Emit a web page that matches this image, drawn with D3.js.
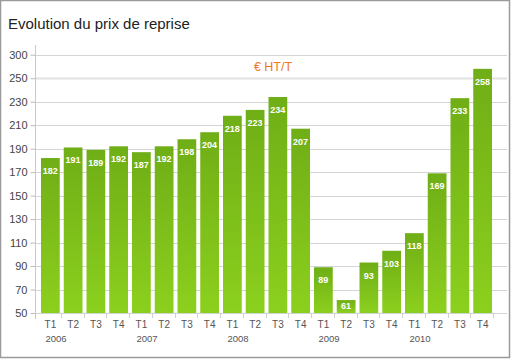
<!DOCTYPE html>
<html><head><meta charset="utf-8">
<script src="https://cdn.jsdelivr.net/npm/d3@7"></script>
<style>html,body{margin:0;padding:0;background:#fff;}svg{display:block;}</style>
</head><body>
<script>
const quarters = ["T1","T2","T3","T4","T1","T2","T3","T4","T1","T2","T3","T4","T1","T2","T3","T4","T1","T2","T3","T4"];
const years = ["2006","2007","2008","2009","2010"];
const values = [182,191,189,192,187,192,198,204,218,223,234,207,89,61,93,103,118,169,233,258];
const yTickValues = [50,70,90,110,130,150,170,190,210,230,250,270];
const yTickLabels = ["50","70","90","110","130","150","170","190","210","230","250","300"];

const W = 511, H = 359;
const FONT = "Liberation Sans, Arial, sans-serif";
const svg = d3.select("body").append("svg").attr("width", W).attr("height", H);
const defs = svg.append("defs");
const grad = defs.append("linearGradient").attr("id","g").attr("x1",0).attr("y1",0).attr("x2",0).attr("y2",1);
grad.append("stop").attr("offset","0%").attr("stop-color","#6fae16");
grad.append("stop").attr("offset","100%").attr("stop-color","#8cd01e");

svg.append("rect").attr("x",0.5).attr("y",0.5).attr("width",W-2).attr("height",H-2)
  .attr("fill","#fff").attr("stroke","#9a9a9a").attr("stroke-width",1.5);

svg.append("text").attr("x",8).attr("y",29).attr("font-family",FONT)
  .attr("font-size",15).attr("fill","#222").text("Evolution du prix de reprise");

const idx = values.map((d,i)=>i);
const x = d3.scaleBand().domain(idx).range([38,493]).padding(0);
const y = d3.scaleLinear().domain([50,280]).range([313,43]);

// grid
svg.append("g").selectAll("line").data(yTickValues).join("line")
  .attr("x1",35).attr("x2",507).attr("y1",d=>Math.round(y(d))+0.5).attr("y2",d=>Math.round(y(d))+0.5)
  .attr("stroke",d=>d===250?"#e2e2e2":"#d4d4d4").attr("stroke-width",d=>d===250?2:1);

// y axis
const yAxis = d3.axisLeft(y).tickValues(yTickValues).tickSize(5).tickPadding(3)
  .tickFormat((d,i)=>yTickLabels[i]);
const gy = svg.append("g").attr("transform","translate(35.5,0)").call(yAxis);
gy.select(".domain").remove();
gy.selectAll(".tick line").attr("stroke","#bbb");
gy.selectAll(".tick text").attr("font-family",FONT).attr("font-size",11).attr("fill","#444");
svg.append("line").attr("x1",35.5).attr("x2",35.5).attr("y1",45).attr("y2",319).attr("stroke","#c8c8c8");

// x ticks
svg.append("g").selectAll("line").data(idx).join("line")
  .attr("x1",d=>Math.round(x(d)+x.bandwidth())+0.5).attr("x2",d=>Math.round(x(d)+x.bandwidth())+0.5)
  .attr("y1",313).attr("y2",318).attr("stroke","#d0d0d0");

// bars
svg.append("g").selectAll("rect").data(values).join("rect")
  .attr("x",(d,i)=>x(i)+3).attr("width",x.bandwidth()-4)
  .attr("y",d=>y(d)).attr("height",d=>y(50)-y(d)).attr("fill","url(#g)");

svg.append("g").selectAll("text").data(values).join("text")
  .attr("x",(d,i)=>x(i)+3+(x.bandwidth()-4)/2).attr("y",d=>Math.min(y(d)+16, y(50)-4))
  .attr("text-anchor","middle").attr("font-family",FONT)
  .attr("font-size",9).attr("font-weight","bold").attr("fill","#fff").text(d=>d);

// x labels
svg.append("g").selectAll("text").data(quarters).join("text")
  .attr("x",(d,i)=>x(i)+3+(x.bandwidth()-4)/2).attr("y",328)
  .attr("text-anchor","middle").attr("font-family",FONT)
  .attr("font-size",10).attr("fill","#555").text(d=>d);
svg.append("g").selectAll("text").data(years).join("text")
  .attr("x",(d,i)=>x(i*4)+3+(x.bandwidth()-4)/2-5).attr("y",342)
  .attr("font-family",FONT)
  .attr("font-size",9.5).attr("fill","#555").text(d=>d);

svg.append("text").attr("x",273).attr("y",71).attr("text-anchor","middle")
  .attr("font-family",FONT).attr("font-size",12.5).attr("fill","#f07818").text("€ HT/T");
</script>
</body></html>
